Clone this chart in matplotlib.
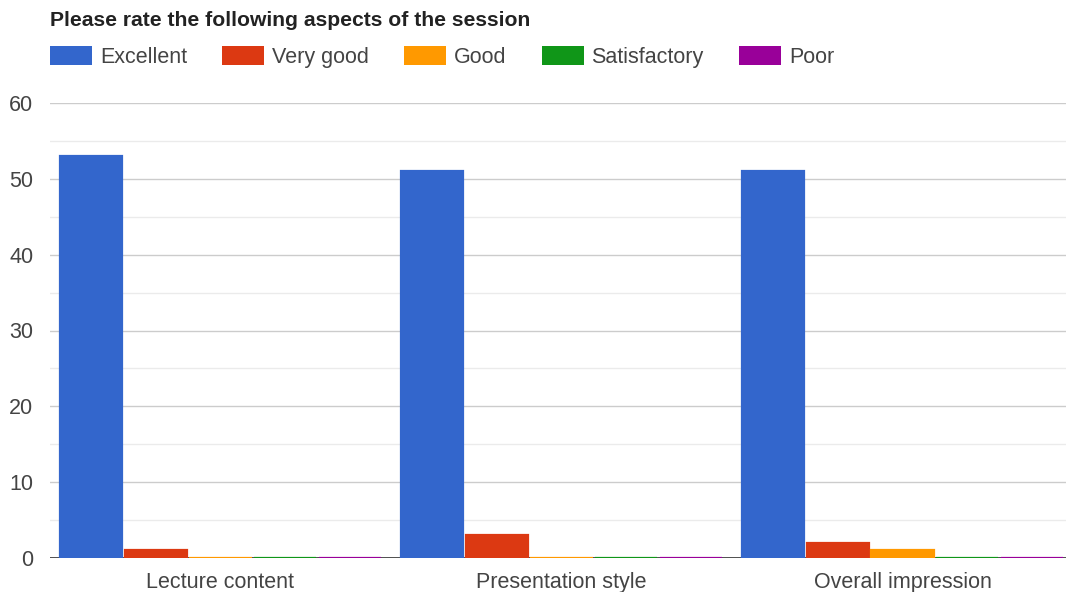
import matplotlib.pyplot as plt
import numpy as np

categories = ['Lecture content', 'Presentation style', 'Overall impression']
ratings = ['Excellent', 'Very good', 'Good', 'Satisfactory', 'Poor']
excellent = [53, 51, 51]
very_good = [1, 3, 2]
good = [0, 0, 1]
satisfactory = [0, 0, 0]
poor = [0, 0, 0]
series = [excellent, very_good, good, satisfactory, poor]
colors = ['#3366cc', '#dc3912', '#ff9900', '#109618', '#990099']

plt.rcParams['font.family'] = ['Liberation Sans', 'DejaVu Sans']

fig = plt.figure(figsize=(10.66, 5.92), dpi=100)
ax = fig.add_axes([50 / 1066, 34 / 592, 1023 / 1066, 455 / 592])

x = np.arange(len(categories))
slot = 0.19
for i, (name, vals, c) in enumerate(zip(ratings, series, colors)):
    ax.bar(x + (i - 2) * slot, vals, width=0.183, color=c, edgecolor=c,
           linewidth=1.6, label=name, zorder=3)

ax.set_xlim(-0.5, 2.5)
ax.set_ylim(0, 60)
ax.set_yticks(range(0, 61, 10))
ax.set_yticks(range(5, 60, 10), minor=True)
ax.grid(axis='y', which='major', color='#cccccc', linewidth=1, zorder=0)
ax.grid(axis='y', which='minor', color='#ebebeb', linewidth=1, zorder=0)
ax.axhline(0, color='#333333', linewidth=1.2, zorder=2.5)
for s in ax.spines.values():
    s.set_visible(False)
ax.set_xticks(x)
ax.set_xticklabels(categories)
ax.tick_params(axis='both', which='both', length=0, labelsize=15.5, colors='#444444')
ax.tick_params(axis='y', pad=12)
ax.tick_params(axis='x', pad=10)

fig.text(50 / 1066, 1 - 20 / 592, 'Please rate the following aspects of the session',
         fontsize=15.2, fontweight='bold', color='#222222', va='center', ha='left')

leg = ax.legend(loc='center left', bbox_to_anchor=(50 / 1066, 1 - 57 / 592), bbox_transform=fig.transFigure,
                ncol=5, frameon=False, fontsize=15.5, handlelength=1.95, handleheight=0.93,
                handletextpad=0.37, columnspacing=1.63, borderaxespad=0, borderpad=0)
for t in leg.get_texts():
    t.set_color('#444444')
for h in leg.legend_handles:
    h.set_linewidth(0)

fig.savefig('out.png', dpi=100)
